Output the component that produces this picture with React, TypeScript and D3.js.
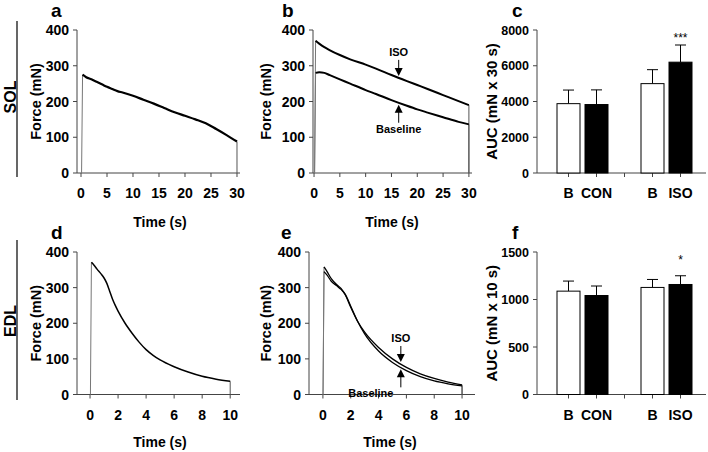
import React from "react";
import * as d3 from "d3";

// ---------- data ----------
const solCon: [number, number][] = [[0.3,275],[1,268],[2,262],[3,255],[4,248],[5,241],[6,235],[7,229],[8,225],[10,216],[12,205],[14,194],[16,182],[18,170],[20,160],[22,150],[24,139],[26,123],[28,106],[30,88]];
const solIso: [number, number][] = [[0.3,370],[1,362],[2,352],[3,344],[5,330],[7,318],[10,303],[12,292],[15,274],[18,257],[20,246],[22,235],[25,218],[28,201],[30,190]];
const solBase: [number, number][] = [[0.3,280],[1,282],[2,280],[3,274],[5,262],[7,250],[10,232],[12,221],[15,204],[18,188],[20,178],[22,169],[25,156],[28,143],[30,136]];
const edlCon: [number, number][] = [[0.1,371],[0.3,362],[0.5,352],[0.8,338],[1.0,327],[1.2,312],[1.4,290],[1.6,268],[1.8,250],[2.0,234],[2.5,200],[3,172],[3.5,147],[4,126],[4.5,110],[5,97],[6,78],[7,63],[8,51],[9,43],[10,37]];
const edlIso: [number, number][] = [[0.08,358],[0.3,345],[0.6,325],[1.0,308],[1.3,298],[1.6,280],[2.0,245],[2.5,205],[3,175],[4,132],[5,100],[6,76],[7,58],[8,45],[9,35],[10,27]];
const edlBase: [number, number][] = [[0.08,345],[0.3,335],[0.6,318],[1.0,305],[1.3,295],[1.6,282],[2.0,248],[2.5,205],[3,170],[4,122],[5,90],[6,67],[7,50],[8,38],[9,30],[10,24]];

const barSlots = ["B1", "CON", "gap", "B2", "ISO"];
const barLabels = ["B", "CON", "", "B", "ISO"];
const barFills = ["#fff", "#000", "", "#fff", "#000"];
const solAuc = [3880, 3830, null, 5000, 6200];
const solAucErr = [760, 820, null, 780, 960];
const edlAuc = [1088, 1042, null, 1127, 1158];
const edlAucErr = [106, 100, null, 84, 92];

const solForceTicks = [0, 100, 200, 300, 400];
const solTimeTicks = [0, 5, 10, 15, 20, 25, 30];
const edlTimeTicks = [0, 2, 4, 6, 8, 10];
const solAucTicks = [0, 2000, 4000, 6000, 8000];
const edlAucTicks = [0, 500, 1000, 1500];

const FONT = "'Liberation Sans', Arial, sans-serif";
const AX = "#444";

type Curve = { data: [number, number][]; width: number };

function LinePanel(props: {
  x0: number; x1: number; y0: number; y1: number;
  xDomain: [number, number];
  xTicks: number[]; curves: Curve[]; title: string; titleX: number;
  timeX: number; timeY: number; labelX: number;
  arrows?: { t: number; curveIso: [number, number][]; curveBase: [number, number][]; baseLabelDx: number };
}) {
  const { x0, x1, y0, y1, xDomain, xTicks, curves } = props;
  const x = d3.scaleLinear().domain(xDomain).range([x0, x1]);
  const y = d3.scaleLinear().domain([0, 400]).range([y0, y1]);
  const line = d3.line<[number, number]>().x(d => x(d[0])).y(d => y(d[1])).curve(d3.curveMonotoneX);
  const interp = (c: [number, number][], t: number) => {
    const i = d3.bisector((d: [number, number]) => d[0]).left(c, t);
    const a = c[Math.max(0, i - 1)], b = c[Math.min(c.length - 1, i)];
    if (a[0] === b[0]) return a[1];
    return a[1] + (b[1] - a[1]) * (t - a[0]) / (b[0] - a[0]);
  };
  return (
    <g>
      <text x={props.titleX} y={y1 - 13} fontSize={19} fontWeight="bold" fontFamily={FONT}>{props.title}</text>
      <line x1={x0} x2={x0} y1={y1} y2={y0} stroke={AX} />
      <line x1={x0} x2={x1} y1={y0} y2={y0} stroke={AX} />
      {solForceTicks.map(v => (
        <g key={v}>
          <line x1={x0 - 4} x2={x0} y1={y(v)} y2={y(v)} stroke={AX} />
          <text x={x0 - 8} y={y(v)} dy="0.36em" textAnchor="end" fontSize={14} fontWeight="bold" fontFamily={FONT}>{v}</text>
        </g>
      ))}
      {xTicks.map(v => (
        <g key={v}>
          <line x1={x(v)} x2={x(v)} y1={y0} y2={y0 + 4} stroke={AX} />
          <text x={x(v)} y={y0 + 20} dy="0.36em" textAnchor="middle" fontSize={14} fontWeight="bold" fontFamily={FONT}>{v}</text>
        </g>
      ))}
      <text x={props.timeX} y={props.timeY} dy="0.36em" textAnchor="middle" fontSize={14} fontWeight="bold" fontFamily={FONT}>Time (s)</text>
      <text transform={`translate(${props.labelX},${(y0 + y1) / 2}) rotate(-90)`} dy="0.36em" textAnchor="middle" fontSize={14.5} fontWeight="bold" fontFamily={FONT}>Force (mN)</text>
      {curves.map((c, i) => {
        const first = c.data[0], last = c.data[c.data.length - 1];
        return (
          <g key={i}>
            <line x1={x(first[0]) - 1} x2={x(first[0])} y1={y(0)} y2={y(first[1])} stroke="#777" strokeWidth={1} />
            <line x1={x(last[0])} x2={x(last[0])} y1={y(last[1])} y2={y(0)} stroke="#555" strokeWidth={1} />
            <path d={line(c.data) || ""} fill="none" stroke="#000" strokeWidth={c.width} />
          </g>
        );
      })}
      {props.arrows && (() => {
        const a = props.arrows!;
        const ax = x(a.t);
        const yi = y(interp(a.curveIso, a.t));
        const yb = y(interp(a.curveBase, a.t));
        return (
          <g fontFamily={FONT} fontWeight="bold" fontSize={11}>
            <text x={ax} y={yi - 22} textAnchor="middle">ISO</text>
            <line x1={ax} x2={ax} y1={yi - 18} y2={yi - 8} stroke="#000" strokeWidth={1} />
            <path d={`M${ax - 4},${yi - 10}L${ax + 4},${yi - 10}L${ax},${yi - 2}Z`} fill="#000" />
            <line x1={ax} x2={ax} y1={yb + 8} y2={yb + 20} stroke="#000" strokeWidth={1} />
            <path d={`M${ax - 4},${yb + 10}L${ax + 4},${yb + 10}L${ax},${yb + 2}Z`} fill="#000" />
            <text x={ax + a.baseLabelDx} y={yb + 26} dy="0.36em" textAnchor="middle">Baseline</text>
          </g>
        );
      })()}
    </g>
  );
}

function BarPanel(props: {
  y0: number; y1: number; max: number; ticks: number[];
  vals: (number | null)[]; errs: (number | null)[]; sig: string; title: string; ylabel: string;
}) {
  const x0 = 537, x1 = 706;
  const x = d3.scalePoint<string>().domain(barSlots).range([568.5, 680.5]);
  const y = d3.scaleLinear().domain([0, props.max]).range([props.y0, props.y1]);
  const bw = 23;
  return (
    <g fontFamily={FONT}>
      <text x={512} y={props.y1 - 13} fontSize={19} fontWeight="bold">{props.title}</text>
      <line x1={x0} x2={x0} y1={props.y1} y2={props.y0} stroke={AX} />
      <line x1={x0} x2={x1} y1={props.y0} y2={props.y0} stroke={AX} />
      {props.ticks.map(v => (
        <g key={v}>
          <line x1={x0 - 4} x2={x0} y1={y(v)} y2={y(v)} stroke={AX} />
          <text x={x0 - 8} y={y(v)} dy="0.36em" textAnchor="end" fontSize={12.5} fontWeight="bold">{v}</text>
        </g>
      ))}
      <text transform={`translate(492,${(props.y0 + props.y1) / 2}) rotate(-90)`} dy="0.36em" textAnchor="middle" fontSize={15} fontWeight="bold">{props.ylabel}</text>
      {barSlots.map((s, i) => {
        const cx = x(s)!;
        const v = props.vals[i];
        const e = props.errs[i];
        return (
          <g key={s}>
            <line x1={cx} x2={cx} y1={props.y0} y2={props.y0 + 4} stroke={AX} />
            {barLabels[i] && <text x={cx} y={props.y0 + 20} dy="0.36em" textAnchor="middle" fontSize={14} fontWeight="bold">{barLabels[i]}</text>}
            {v !== null && e !== null && (
              <g>
                <line x1={cx} x2={cx} y1={y(v)} y2={y(v + e)} stroke="#000" />
                <line x1={cx - 5.5} x2={cx + 5.5} y1={y(v + e)} y2={y(v + e)} stroke="#000" />
                <rect x={cx - bw / 2} y={y(v)} width={bw} height={props.y0 - y(v)} fill={barFills[i]} stroke="#000" strokeWidth={1} />
              </g>
            )}
          </g>
        );
      })}
      <text x={x("ISO")!} y={props.y1 + 8} dy="0.36em" textAnchor="middle" fontSize={12}>{props.sig}</text>
    </g>
  );
}

export default function App() {
  return (
    <svg width={708} height={452} style={{ position: "absolute", left: 0, top: 0, background: "#fff" }}>
      <rect width={708} height={452} fill="#fff" />
      {/* row labels */}
      <text transform="translate(10,97) rotate(-90)" dy="0.36em" textAnchor="middle" fontSize={16} fontWeight="bold" fontFamily={FONT}>SOL</text>
      <line x1={17} x2={17} y1={21} y2={177} stroke="#000" strokeWidth={1.2} />
      <text transform="translate(10,321) rotate(-90)" dy="0.36em" textAnchor="middle" fontSize={16} fontWeight="bold" fontFamily={FONT}>EDL</text>
      <line x1={17} x2={17} y1={240} y2={400} stroke="#000" strokeWidth={1.2} />

      <LinePanel x0={77} x1={240} y0={173} y1={30} xDomain={[-0.77, 30.58]}
        xTicks={solTimeTicks} curves={[{ data: solCon, width: 2.2 }]} title="a" titleX={51}
        timeX={160} timeY={222} labelX={36} />
      <LinePanel x0={313} x1={472} y0={173} y1={30} xDomain={[-0.2, 30.6]}
        xTicks={solTimeTicks} curves={[{ data: solIso, width: 2 }, { data: solBase, width: 2 }]} title="b" titleX={282}
        timeX={392} timeY={222} labelX={266}
        arrows={{ t: 16.4, curveIso: solIso, curveBase: solBase, baseLabelDx: 0 }} />
      <BarPanel y0={173} y1={30} max={8000} ticks={solAucTicks} vals={solAuc} errs={solAucErr} sig="***" title="c" ylabel="AUC (mN x 30 s)" />

      <LinePanel x0={77} x1={240} y0={394.5} y1={252} xDomain={[-0.93, 10.7]}
        xTicks={edlTimeTicks} curves={[{ data: edlCon, width: 1.5 }]} title="d" titleX={51}
        timeX={160} timeY={442} labelX={36} />
      <LinePanel x0={309} x1={475} y0={394.5} y1={252} xDomain={[-1.0, 10.93]}
        xTicks={edlTimeTicks} curves={[{ data: edlIso, width: 1.3 }, { data: edlBase, width: 1.3 }]} title="e" titleX={281}
        timeX={390} timeY={442} labelX={266}
        arrows={{ t: 5.6, curveIso: edlIso, curveBase: edlBase, baseLabelDx: -30 }} />
      <BarPanel y0={394.5} y1={252} max={1500} ticks={edlAucTicks} vals={edlAuc} errs={edlAucErr} sig="*" title="f" ylabel="AUC (mN x 10 s)" />
    </svg>
  );
}
